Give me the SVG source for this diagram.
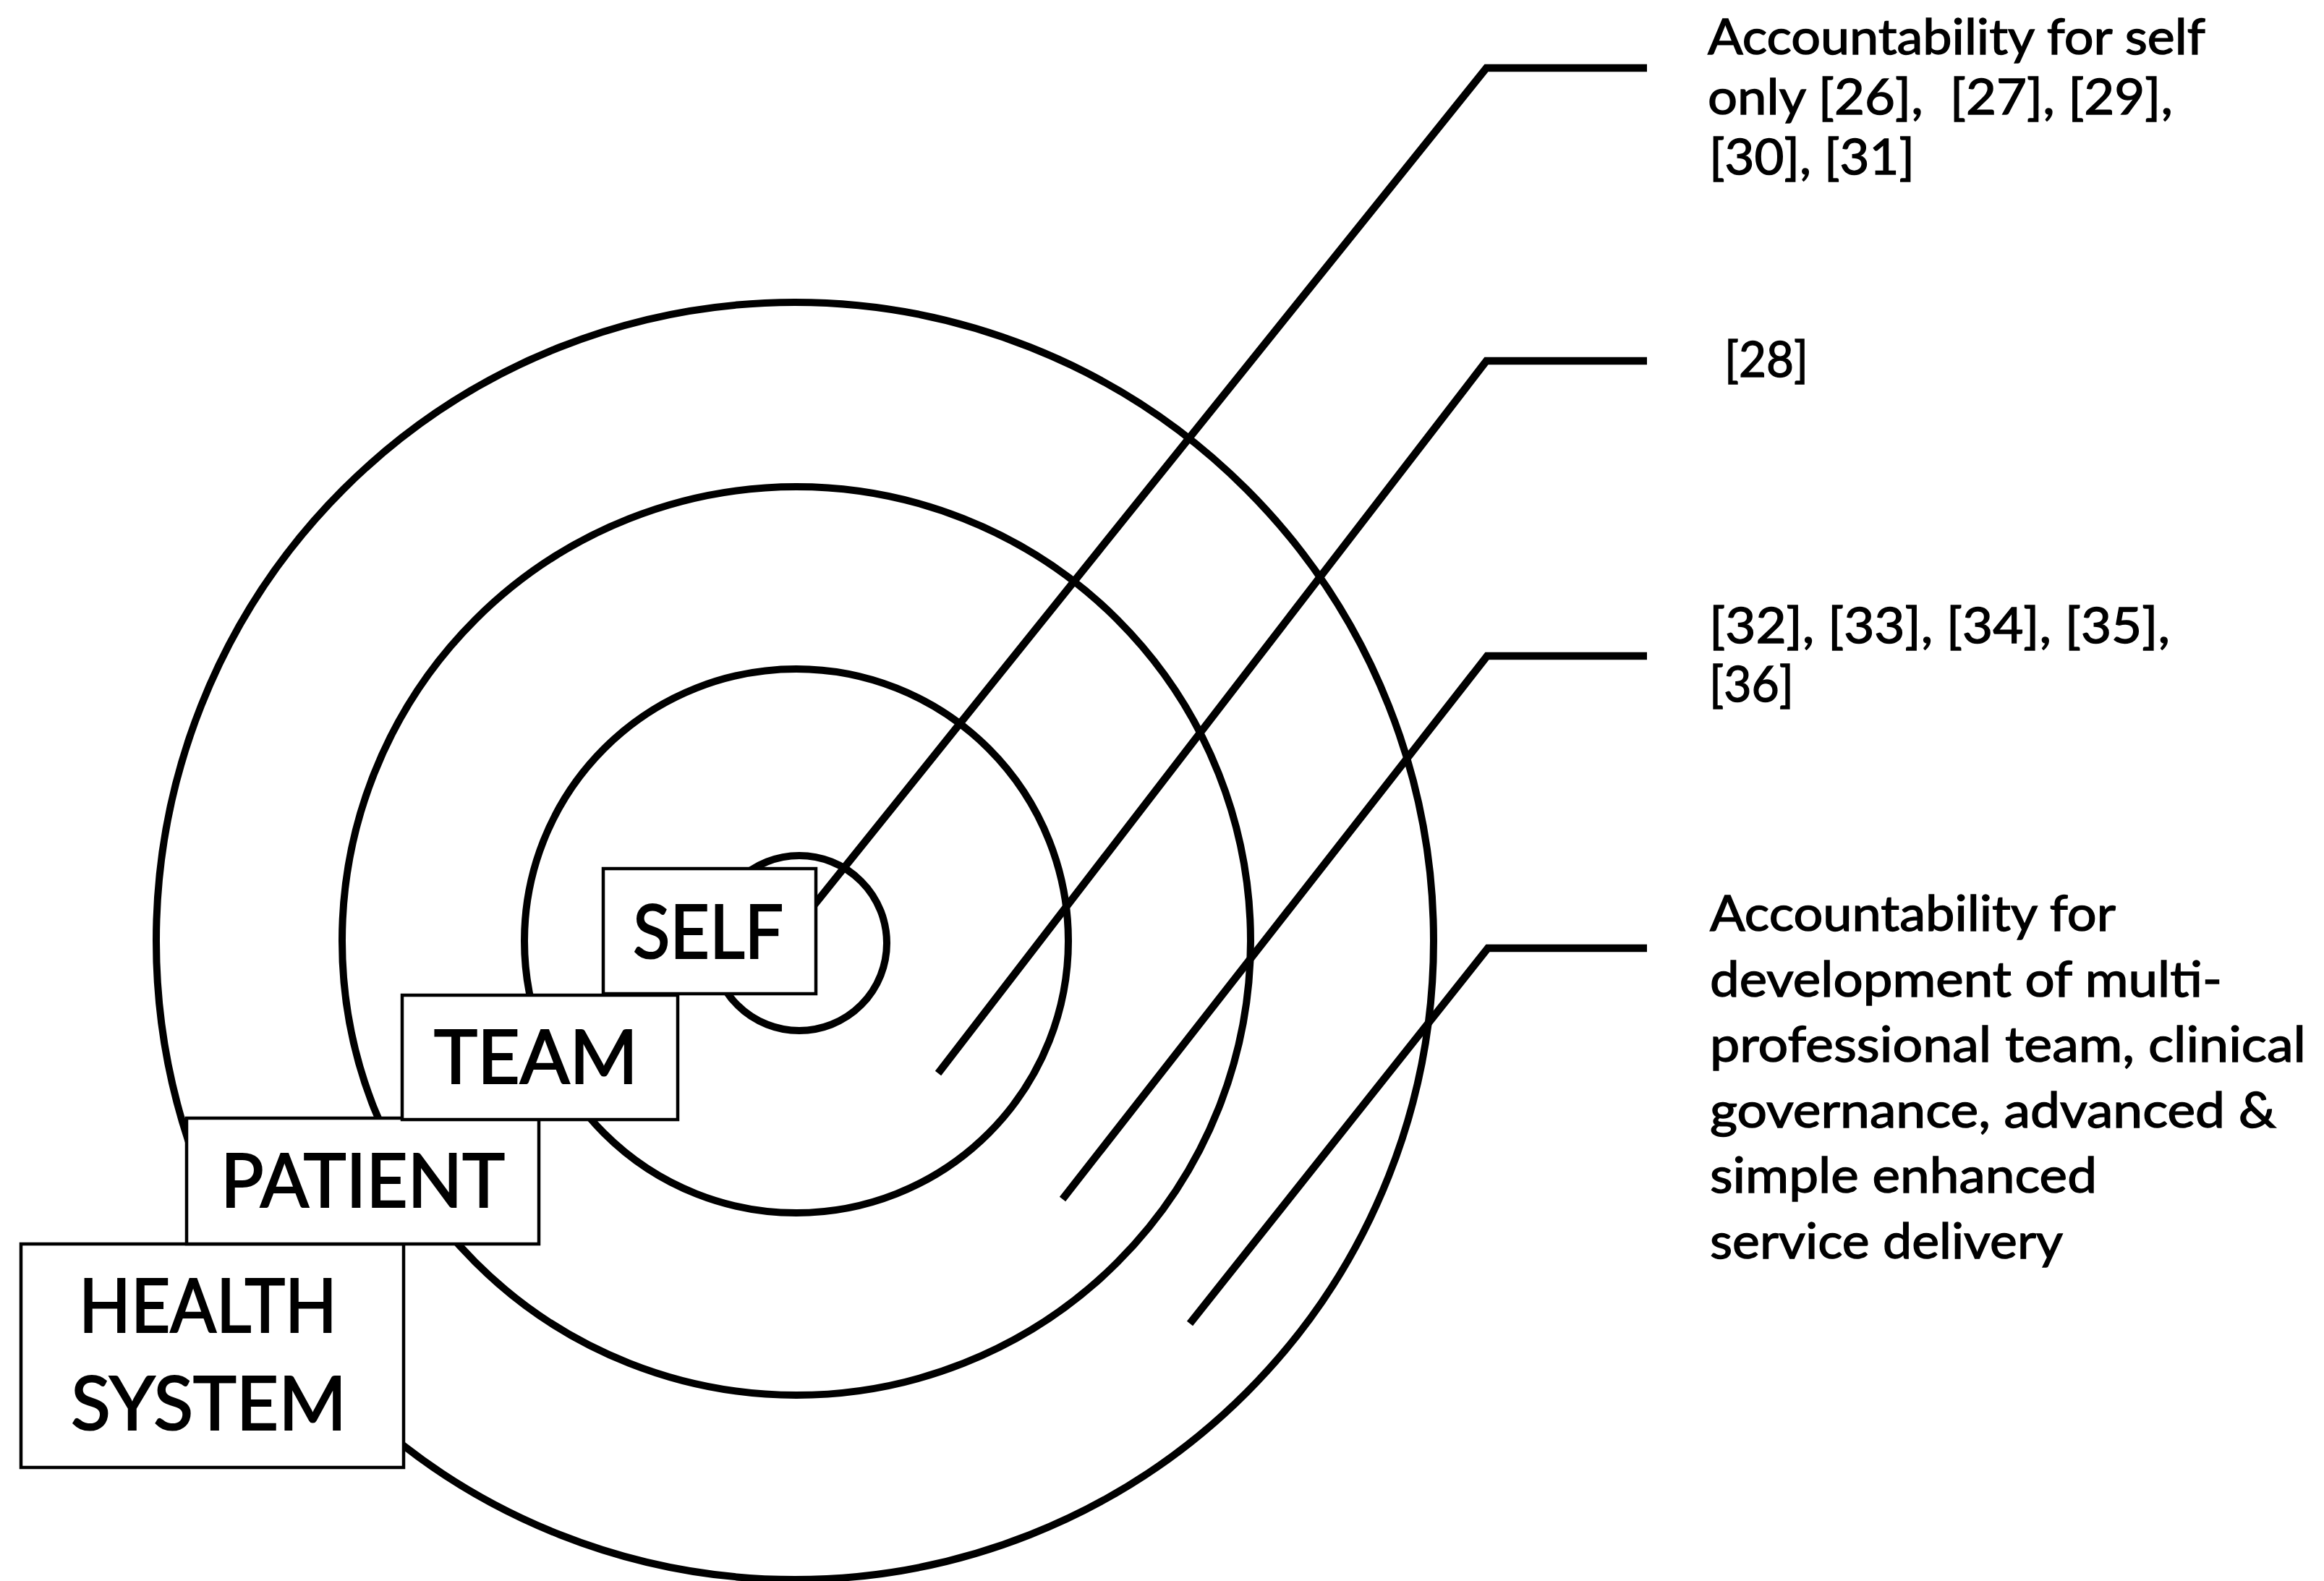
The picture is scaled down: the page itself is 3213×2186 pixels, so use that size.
<svg xmlns="http://www.w3.org/2000/svg" width="3213" height="2186" viewBox="0 0 3213 2186">
<style>
.ring{fill:none;stroke:#000;stroke-width:10}
.conn{fill:none;stroke:#000;stroke-width:10.5;stroke-linejoin:miter;stroke-linecap:butt}
.box{fill:#fff;stroke:#000;stroke-width:4.5}
.lbl{font-family:Lato,'Open Sans','Liberation Sans',sans-serif;font-size:102px;fill:#000;stroke:#000;stroke-width:2.2}
.note{font-family:Lato,'Open Sans','Liberation Sans',sans-serif;font-size:68px;fill:#000;stroke:#000;stroke-width:1.4}
</style>
<rect width="3213" height="2186" fill="#fff"/>
<g id="rings">
<circle class="ring" cx="1099" cy="1301" r="883"/>
<circle class="ring" cx="1101" cy="1301" r="628"/>
<circle class="ring" cx="1101" cy="1301" r="376"/>
<circle class="ring" cx="1105" cy="1304" r="121"/>
</g>
<g id="connectors">
<polyline class="conn" points="1105,1277 2055,94 2277,94"/>
<polyline class="conn" points="1297,1484 2055,499 2277,499"/>
<polyline class="conn" points="1469,1658 2056,907 2277,907"/>
<polyline class="conn" points="1645,1830 2057,1311 2277,1311"/>
</g>
<g id="node-health-system">
<rect class="box" x="29" y="1720" width="529" height="309"/>
<text class="lbl" x="109" y="1842" textLength="357" lengthAdjust="spacingAndGlyphs">HEALTH</text>
<text class="lbl" x="98" y="1977" textLength="381" lengthAdjust="spacingAndGlyphs">SYSTEM</text>
</g>
<g id="node-patient">
<rect class="box" x="258" y="1546" width="487" height="174"/>
<text class="lbl" x="305" y="1669" textLength="393" lengthAdjust="spacingAndGlyphs">PATIENT</text>
</g>
<g id="node-team">
<rect class="box" x="556" y="1376" width="381" height="172"/>
<text class="lbl" x="600" y="1498" textLength="282" lengthAdjust="spacingAndGlyphs">TEAM</text>
</g>
<g id="node-self">
<rect class="box" x="834" y="1201" width="294" height="173"/>
<text class="lbl" x="875" y="1325" textLength="208" lengthAdjust="spacingAndGlyphs">SELF</text>
</g>
<g id="note-self">
<text class="note" x="2361" y="75" textLength="688" lengthAdjust="spacingAndGlyphs">Accountability for self</text>
<text class="note" x="2361" y="158" textLength="643" lengthAdjust="spacingAndGlyphs" xml:space="preserve">only [26],  [27], [29],</text>
<text class="note" x="2363" y="241" textLength="284" lengthAdjust="spacingAndGlyphs">[30], [31]</text>
</g>
<g id="note-team">
<text class="note" x="2384" y="521" textLength="116" lengthAdjust="spacingAndGlyphs">[28]</text>
</g>
<g id="note-patient">
<text class="note" x="2363" y="889" textLength="637" lengthAdjust="spacingAndGlyphs">[32], [33], [34], [35],</text>
<text class="note" x="2363" y="970" textLength="117" lengthAdjust="spacingAndGlyphs">[36]</text>
</g>
<g id="note-health-system">
<text class="note" x="2364" y="1287" textLength="561" lengthAdjust="spacingAndGlyphs">Accountability for</text>
<text class="note" x="2364" y="1378" textLength="708" lengthAdjust="spacingAndGlyphs">development of multi-</text>
<text class="note" x="2364" y="1468" textLength="824" lengthAdjust="spacingAndGlyphs">professional team, clinical</text>
<text class="note" x="2364" y="1559" textLength="783" lengthAdjust="spacingAndGlyphs">governance, advanced &amp;</text>
<text class="note" x="2364" y="1649" textLength="535" lengthAdjust="spacingAndGlyphs">simple enhanced</text>
<text class="note" x="2364" y="1740" textLength="488" lengthAdjust="spacingAndGlyphs">service delivery</text>
</g>
</svg>
